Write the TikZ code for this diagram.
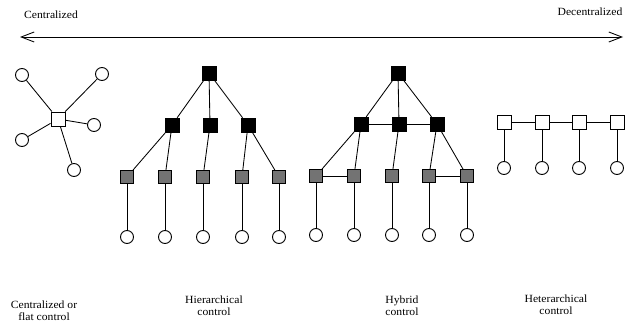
\documentclass[tikz,border=0pt]{standalone}
\usepackage{fontspec}
\setmainfont{Liberation Serif}[FakeStretch=1.06]
\usetikzlibrary{arrows.meta}
\begin{document}
\begin{tikzpicture}[x=1pt,y=-1pt,
  lbl/.style={font=\fontsize{11}{12}\selectfont, align=center, inner sep=0pt},
  blk/.style={draw, fill=black, minimum size=14pt, inner sep=0pt},
  gry/.style={draw, fill=black!55, minimum size=13pt, inner sep=0pt, line width=1pt},
  wht/.style={draw, fill=white, minimum size=14pt, inner sep=0pt, line width=0.9pt},
  crc/.style={draw, circle, fill=white, minimum size=13pt, inner sep=0pt, line width=0.9pt},
  ln/.style={line width=0.85pt}]
\useasboundingbox (0,0) rectangle (626,326);
% axis
\node[lbl] (tc) at (51,15) {Centralized};
\node[lbl] (td) at (590,12) {Decentralized};
\coordinate (al) at (20,37);
\coordinate (ar) at (623,37);
\draw[ln, {Straight Barb[length=13pt,width=10pt]}-{Straight Barb[length=13pt,width=10pt]}] (al) -- (ar);
% star
\node[wht] (s0) at (58,119) {};
\foreach \n/\x/\y in {1/22/75, 2/102/74, 3/94/125, 4/22/140, 5/74/170} {
  \node[crc] (s\n) at (\x,\y) {};
  \draw[ln] (s0) -- (s\n);
}
% hierarchical
\node[blk] (ht) at (209,73) {};
\node[blk] (hm1) at (172,125) {};
\node[blk] (hm2) at (210,125) {};
\node[blk] (hm3) at (248,125) {};
\foreach \i/\x in {1/127, 2/165, 3/203, 4/242, 5/279} {
  \node[gry] (hb\i) at (\x,177) {};
  \node[crc] (hc\i) at (\x,237) {};
  \draw[ln] (hb\i) -- (hc\i);
}
\foreach \m in {1,2,3} \draw[ln] (ht) -- (hm\m);
\draw[ln] (hm1) -- (hb1); \draw[ln] (hm1) -- (hb2);
\draw[ln] (hm2) -- (hb3);
\draw[ln] (hm3) -- (hb4); \draw[ln] (hm3) -- (hb5);
% hybrid
\node[blk] (yt) at (398,73) {};
\node[blk] (ym1) at (361,124) {};
\node[blk] (ym2) at (399,124) {};
\node[blk] (ym3) at (437,124) {};
\foreach \i/\x in {1/316, 2/354, 3/392, 4/429, 5/467} {
  \node[gry] (yb\i) at (\x,176) {};
  \node[crc] (yc\i) at (\x,235) {};
  \draw[ln] (yb\i) -- (yc\i);
}
\foreach \m in {1,2,3} \draw[ln] (yt) -- (ym\m);
\draw[ln] (ym1) -- (ym2); \draw[ln] (ym2) -- (ym3);
\draw[ln] (ym1) -- (yb1); \draw[ln] (ym1) -- (yb2);
\draw[ln] (ym2) -- (yb3);
\draw[ln] (ym3) -- (yb4); \draw[ln] (ym3) -- (yb5);
\draw[ln] (yb1) -- (yb2); \draw[ln] (yb4) -- (yb5);
% heterarchical
\foreach \i/\x in {1/504, 2/542, 3/579, 4/617} {
  \node[wht] (eb\i) at (\x,122) {};
  \node[crc] (ec\i) at (\x,168) {};
  \draw[ln] (eb\i) -- (ec\i);
}
\draw[ln] (eb1) -- (eb2); \draw[ln] (eb2) -- (eb3); \draw[ln] (eb3) -- (eb4);
% labels
\node[lbl] (l1) at (44,311) {Centralized or\\flat control};
\node[lbl] (l2) at (214,306) {Hierarchical\\control};
\node[lbl] (l3) at (402,306) {Hybrid\\control};
\node[lbl] (l4) at (556,305) {Heterarchical\\control};
\end{tikzpicture}
\end{document}
